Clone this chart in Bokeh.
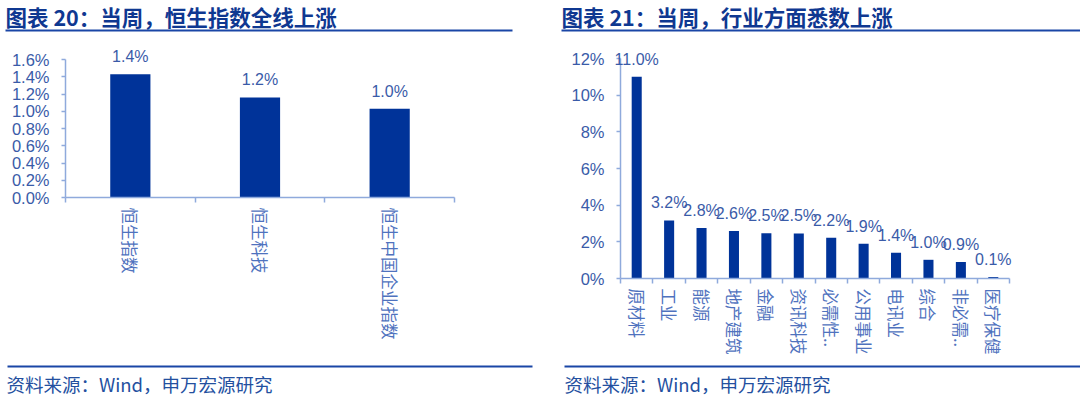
from bokeh.plotting import figure
from bokeh.models import (Range1d, FixedTicker, PrintfTickFormatter, LabelSet, Label,
                          PolyAnnotation, ColumnDataSource)
from bokeh.layouts import row
from bokeh.core.properties import value
from bokeh.embed import file_html
from bokeh.resources import INLINE

# ---- data ----
left_title = "图表 20：当周，恒生指数全线上涨"
left_categories = ["恒生指数", "恒生科技", "恒生中国企业指数"]
left_values = [1.43, 1.16, 1.03]
left_ticks = [0.0, 0.2, 0.4, 0.6, 0.8, 1.0, 1.2, 1.4, 1.6]

right_title = "图表 21：当周，行业方面悉数上涨"
right_categories = ["原材料", "工业", "能源", "地产建筑", "金融", "资讯科技",
                    "必需性..", "公用事业", "电讯业", "综合", "非必需..", "医疗保健"]
right_values = [11.0, 3.17, 2.76, 2.59, 2.47, 2.46, 2.22, 1.89, 1.40, 1.02, 0.90, 0.08]
right_ticks = [0, 2, 4, 6, 8, 10, 12]

source_text = "资料来源：Wind，申万宏源研究"

# ---- styles ----
CJK = "Noto Sans CJK SC"
LAT = "Liberation Sans"
BAR = "#003399"
AXIS = "#8FAADC"
TICK_TXT = "#3A5BA8"
CAT_TXT = "#4F72BE"
TITLE_C = "#0F3891"
RULE_C = "#1A46A6"
FOOT_C = "#24509F"

H = 397  # figure height


def panel(title, cats, vals, ticks, fmt, fig_x0, w, ax_l, ax_r, ax_t, ax_b, deco):
    """fig_x0: page x of the figure; ax_*: page px of the axes box."""
    n = len(cats)
    kx = n / (ax_r - ax_l)
    ky = (ticks[-1] - ticks[0]) / (ax_b - ax_t)
    x_range = Range1d(-0.5 - (ax_l - fig_x0) * kx, n - 0.5 + (fig_x0 + w - ax_r) * kx)
    y_range = Range1d(ticks[0] - (H - ax_b) * ky, ticks[-1] + ax_t * ky)
    p = figure(width=w, height=H, x_range=x_range, y_range=y_range,
               toolbar_location=None, output_backend="svg", min_border=0)
    p.grid.visible = False
    p.outline_line_color = None
    xs = list(range(n))
    src = ColumnDataSource(dict(x=xs, top=vals, label=[f"{v:.1f}%" for v in vals]))
    p.vbar(x="x", top="top", bottom=0, width=0.31, source=src,
           fill_color=BAR, line_color=None)
    p.add_layout(LabelSet(x="x", y="top", text="label", source=src,
                          text_align="center", text_baseline="bottom", y_offset=9,
                          text_font=value(LAT), text_font_size="16px",
                          text_color=TICK_TXT))
    # x axis
    xa = p.xaxis[0]
    xa.fixed_location = ticks[0]
    xa.bounds = (-0.5, n - 0.5)
    xa.ticker = FixedTicker(ticks=xs, minor_ticks=[i - 0.5 for i in range(n + 1)])
    xa.major_label_overrides = {i: c for i, c in enumerate(cats)}
    xa.major_label_orientation = "vertical"
    xa.major_label_text_font = CJK
    xa.major_label_text_font_size = "16.5px"
    xa.major_label_text_color = CAT_TXT
    xa.major_label_standoff = 5
    xa.major_tick_in = 0
    xa.major_tick_out = 0
    xa.minor_tick_in = 0
    xa.minor_tick_out = 5
    xa.minor_tick_line_color = AXIS
    xa.minor_tick_line_width = 1.5
    xa.axis_line_color = AXIS
    xa.axis_line_width = 1.5
    # y axis
    ya = p.yaxis[0]
    ya.fixed_location = -0.5
    ya.bounds = (ticks[0], ticks[-1])
    ya.ticker = FixedTicker(ticks=ticks)
    ya.formatter = PrintfTickFormatter(format=fmt)
    ya.major_label_text_font = LAT
    ya.major_label_text_font_size = "16.5px"
    ya.major_label_text_color = TICK_TXT
    ya.major_label_standoff = 12
    ya.major_tick_in = 0
    ya.major_tick_out = 4
    ya.major_tick_line_color = AXIS
    ya.major_tick_line_width = 1.5
    ya.minor_tick_line_color = None
    ya.axis_line_color = AXIS
    ya.axis_line_width = 1.5

    # decorations: screen units relative to the frame (= whole figure), y upward
    def sx(px):
        return px - fig_x0

    def sy(py):
        return H - py

    def rule(x0, x1, y):
        return PolyAnnotation(xs=[sx(x0), sx(x1), sx(x1), sx(x0)],
                              ys=[sy(y - 1), sy(y - 1), sy(y + 1), sy(y + 1)],
                              xs_units="screen", ys_units="screen",
                              fill_color=RULE_C, fill_alpha=1, line_color=None)

    p.add_layout(Label(x=sx(deco["title_x"]), y=sy(16), x_units="screen", y_units="screen",
                       text=title, text_font=CJK, text_font_style="bold",
                       text_font_size="21.5px", text_color=TITLE_C, text_baseline="middle"))
    p.add_layout(rule(deco["top_rule"][0], deco["top_rule"][1], 30))
    p.add_layout(rule(deco["bot_rule"][0], deco["bot_rule"][1], 366))
    p.add_layout(Label(x=sx(deco["foot_x"]), y=sy(383), x_units="screen", y_units="screen",
                       text=source_text, text_font=CJK,
                       text_font_size="18.5px", text_color=FOOT_C, text_baseline="middle"))
    return p


LW, RW = 550, 530

left = panel(left_title, left_categories, left_values, left_ticks, "%.1f%%",
             0, LW, 65, 454, 59, 197,
             dict(title_x=5, top_rule=(5, 512), bot_rule=(7, 532), foot_x=6))
right = panel(right_title, right_categories, right_values, right_ticks, "%d%%",
              550, RW, 620, 1009, 58, 278,
              dict(title_x=561, top_rule=(561, 1080), bot_rule=(564, 1080), foot_x=564))

page = row(left, right, spacing=0)

open("out.html", "w").write(file_html(page, INLINE))
